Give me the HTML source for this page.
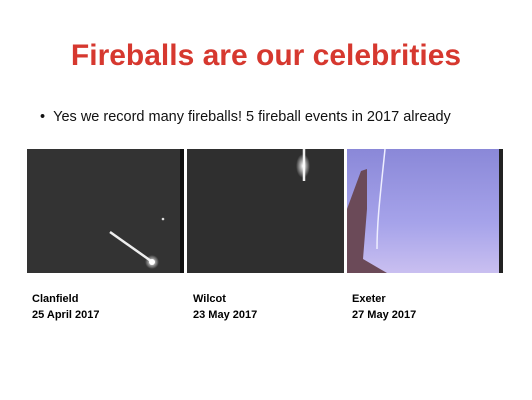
<!DOCTYPE html>
<html><head><meta charset="utf-8"><style>
body{margin:0;width:532px;height:400px;background:#fff;position:relative;overflow:hidden;font-family:"Liberation Sans",sans-serif}
.t{position:absolute;left:0;width:532px;top:39px;text-align:center;color:#d6382f;font-weight:bold;font-size:30px;font-family:"Liberation Sans",sans-serif}
.b{position:absolute;left:40px;top:109px;font-size:14.5px;color:#111}
.img{position:absolute;top:149px;height:124px;overflow:hidden}
.cap{position:absolute;top:291px;font-size:11px;font-weight:bold;line-height:16px;color:#000}
</style></head><body>
<div class="t">Fireballs are our celebrities</div>
<div class="b">•&nbsp;&nbsp;Yes we record many fireballs! 5 fireball events in 2017 already</div>
<div class="img" style="left:27px;width:157px;background:#333">
<svg width="157" height="124"><defs><radialGradient id="g1"><stop offset="0" stop-color="#fff"/><stop offset="1" stop-color="#fff" stop-opacity="0"/></radialGradient></defs>
<rect x="153" width="4" height="124" fill="#111"/>
<line x1="83" y1="83" x2="124" y2="112" stroke="#eee" stroke-width="2.5"/><circle cx="125" cy="113" r="7" fill="url(#g1)"/><circle cx="125" cy="113" r="3" fill="#fff"/><circle cx="136" cy="70" r="1.3" fill="#ddd"/></svg></div>
<div class="img" style="left:187px;width:157px;background:#2f2f2f">
<svg width="157" height="124"><defs><radialGradient id="g2"><stop offset="0" stop-color="#fff"/><stop offset="1" stop-color="#fff" stop-opacity="0"/></radialGradient></defs>
<line x1="117" y1="0" x2="117" y2="32" stroke="#eee" stroke-width="2.5"/><ellipse cx="116" cy="17" rx="7" ry="12" fill="url(#g2)"/></svg></div>
<div class="img" style="left:347px;width:156px;background:linear-gradient(#8a88d8,#a6a3ea 60%,#c9bff0)">
<svg width="156" height="124"><rect x="152" width="4" height="124" fill="#222"/>
<path d="M38 0 C34 40 30 70 30 100" stroke="#eef" stroke-width="1.5" fill="none"/>
<path d="M0 60 L14 22 L20 20 L20 60 L16 110 L40 124 L0 124Z" fill="#6b4a58"/></svg></div>
<div class="cap" style="left:32px">Clanfield<br>25 April 2017</div>
<div class="cap" style="left:193px">Wilcot<br>23 May 2017</div>
<div class="cap" style="left:352px">Exeter<br>27 May 2017</div>
</body></html>
